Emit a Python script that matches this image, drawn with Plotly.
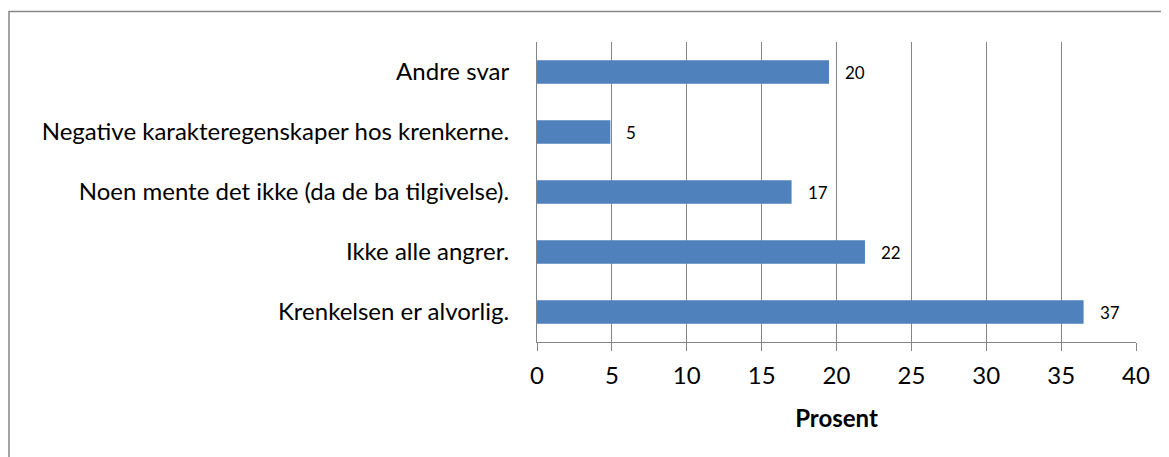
import plotly.graph_objects as go

categories = [
    "Krenkelsen er alvorlig.",
    "Ikke alle angrer.",
    "Noen mente det ikke (da de ba tilgivelse).",
    "Negative karakteregenskaper hos krenkerne.",
    "Andre svar",
]
values = [36.5, 21.9, 17.0, 4.9, 19.5]
value_labels = ["37", "22", "17", "5", "20"]
x_ticks = [0, 5, 10, 15, 20, 25, 30, 35, 40]

FONT = "Lato, 'Open Sans', sans-serif"
GRID = "#868686"

W, H = 1161, 449
ML, MT, PW, PH = 529, 34, 599, 300

fig = go.Figure(
    go.Bar(
        x=values,
        y=categories,
        orientation="h",
        marker=dict(color="#4F81BD", line=dict(width=0)),
        width=0.39,
        hoverinfo="skip",
    )
)

for v, c, t in zip(values, categories, value_labels):
    fig.add_annotation(
        x=v, y=c, text=t, showarrow=False, xanchor="left", xshift=14,
        font=dict(family=FONT, size=17, color="#000000"),
    )

fig.update_layout(
    width=W,
    height=H,
    margin=dict(l=ML, r=W - ML - PW, t=MT, b=H - MT - PH),
    paper_bgcolor="white",
    plot_bgcolor="white",
    showlegend=False,
    font=dict(family=FONT, size=24, color="#000000"),
    xaxis=dict(
        range=[0, 40],
        tickvals=x_ticks,
        ticktext=[str(t) for t in x_ticks],
        showgrid=True,
        gridcolor=GRID,
        gridwidth=1,
        showline=True,
        linecolor=GRID,
        linewidth=1,
        ticks="outside",
        ticklen=8,
        tickcolor=GRID,
        ticklabelstandoff=4,
        tickfont=dict(family=FONT, size=24, color="#000000"),
        zeroline=False,
        title=dict(text="<b>Prosent</b>", font=dict(family=FONT, size=24, color="#000000"), standoff=22),
        fixedrange=True,
    ),
    yaxis=dict(
        categoryorder="array",
        categoryarray=categories,
        showgrid=False,
        showline=True,
        linecolor=GRID,
        linewidth=1,
        ticks="",
        ticklabelstandoff=22,
        tickfont=dict(family=FONT, size=24, color="#000000"),
        zeroline=False,
        fixedrange=True,
    ),
    shapes=[
        dict(
            type="rect", xref="paper", yref="paper",
            x0=(1 - ML) / PW, x1=1.2, y0=-0.8, y1=1 + (MT - 3.5) / PH,
            line=dict(color="#878787", width=1.5), fillcolor="rgba(0,0,0,0)",
            layer="below",
        )
    ],
)

fig.write_html("out.html")
